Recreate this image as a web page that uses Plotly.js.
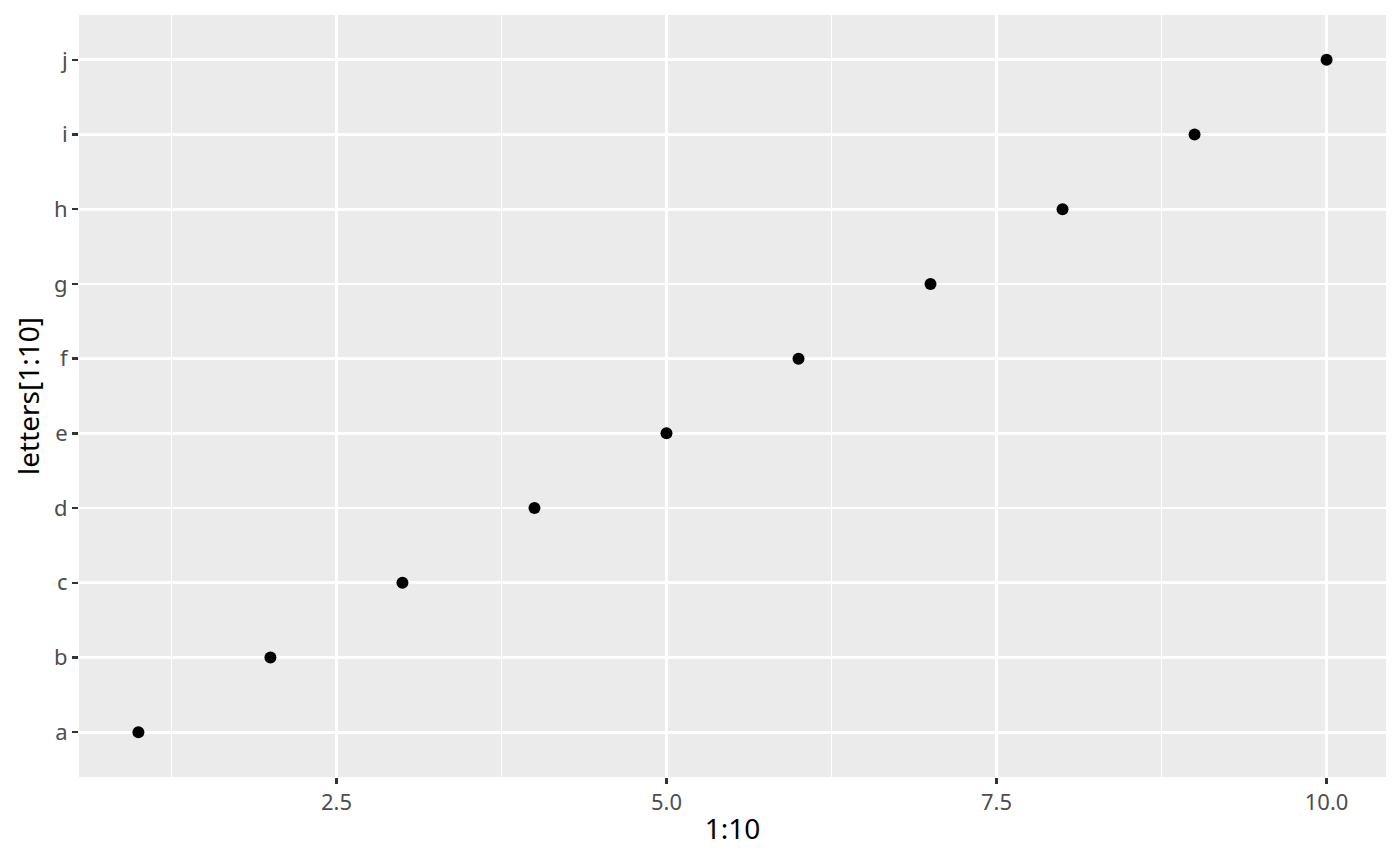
<!DOCTYPE html>
<html><head><meta charset="utf-8">
<script src="https://cdn.plot.ly/plotly-3.0.1.min.js"></script>
<style>html,body{margin:0;padding:0;background:#fff}#plot{width:1400px;height:866px}</style>
</head><body><div id="plot"></div>
<script>
const xValues = [1,2,3,4,5,6,7,8,9,10];
const yLetters = ["a","b","c","d","e","f","g","h","i","j"];
const xTickVals = [2.5,5.0,7.5,10.0];
const xTickText = ["2.5","5.0","7.5","10.0"];
const xMinorVals = [1.25,3.75,6.25,8.75];

const trace = {
  x: xValues, y: yLetters, type: 'scatter', mode: 'markers',
  marker: {color: '#000000', size: 12}, hoverinfo: 'x+y'
};
const layout = {
  width: 1400, height: 866,
  margin: {l: 79, r: 14, t: 15, b: 89},
  paper_bgcolor: '#ffffff', plot_bgcolor: '#EBEBEB',
  font: {family: 'Noto Sans, Open Sans, sans-serif', color: '#4D4D4D', size: 22},
  showlegend: false,
  xaxis: {
    range: [0.55, 10.45], tickvals: xTickVals, ticktext: xTickText,
    showgrid: true, gridcolor: '#ffffff', gridwidth: 2.7,
    minor: {tickvals: xMinorVals, showgrid: true, gridcolor: '#ffffff', gridwidth: 1.4, ticks: ''},
    ticks: 'outside', ticklen: 6, tickwidth: 2.5, tickcolor: '#333333',
    zeroline: false, showline: false,
    tickfont: {size: 22, color: '#4D4D4D'},
    title: {text: '1:10', font: {size: 28, color: '#000000'}, standoff: 3}
  },
  yaxis: {
    type: 'category', categoryorder: 'array', categoryarray: yLetters,
    range: [-0.6, 9.6],
    showgrid: true, gridcolor: '#ffffff', gridwidth: 2.7,
    ticks: 'outside', ticklen: 6, tickwidth: 2.5, tickcolor: '#333333',
    zeroline: false, showline: false,
    tickfont: {size: 22, color: '#4D4D4D'},
    title: {text: 'letters[1:10]', font: {size: 28, color: '#000000'}, standoff: 6}
  }
};
Plotly.newPlot('plot', [trace], layout, {displayModeBar: false, staticPlot: true});
</script></body></html>
